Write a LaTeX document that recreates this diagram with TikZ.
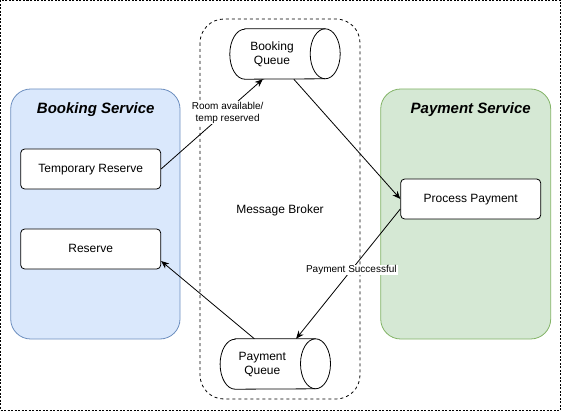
\documentclass[tikz,border=0pt]{standalone}
\usepackage{fontspec}
\setmainfont{Liberation Sans}
\usetikzlibrary{arrows.meta,calc}
\definecolor{bsfill}{HTML}{DAE8FC}
\definecolor{bsdraw}{HTML}{6C8EBF}
\definecolor{psfill}{HTML}{D5E8D4}
\definecolor{psdraw}{HTML}{82B366}
\begin{document}
\begin{tikzpicture}[x=1pt,y=-1pt,
  capc/.style={text height=0.716em, text depth=0pt},
  svc/.style={rounded corners=20pt, line width=0.8pt},
  box/.style={draw, rounded corners=4pt, fill=white, line width=0.8pt, minimum width=140pt, minimum height=40pt, font=\fontsize{12}{14}\selectfont, inner sep=0pt, capc},
  title/.style={font=\fontsize{15}{17}\selectfont\bfseries\itshape, capc},
  qbox/.style={minimum width=110pt, minimum height=50pt, inner sep=0pt},
  qtxt/.style={align=center, font=\fontsize{12}{14}\selectfont},
  conn/.style={draw, line width=0.8pt, -{Stealth[length=8pt,width=6.5pt,inset=2.5pt]}},
  elabel/.style={fill=white, inner sep=1pt, align=center, font=\fontsize{10}{12}\selectfont},
]
\useasboundingbox (0,0) rectangle (561,411);
% outer frame
\draw[line width=0.8pt, dash pattern=on 2pt off 1.5pt] (0.5,0.5) rectangle (560.5,410);
% services
\draw[svc, fill=bsfill, draw=bsdraw] (10.7,89) rectangle (180,339);
\draw[svc, fill=psfill, draw=psdraw] (380.7,89) rectangle (550.7,339);
\node[title] (bst) at (95.7,110) {Booking Service};
\node[title] (pst) at (470.7,110) {Payment Service};
% broker
\draw[line width=0.8pt, dash pattern=on 3pt off 3pt, rounded corners=24pt] (200,19) rectangle (360,399);
\node[font=\fontsize{12}{14}\selectfont, capc] (mb) at (280,210) {Message Broker};
% boxes
\node[box] (tr) at (90.7,169) {Temporary Reserve};
\node[box] (rs) at (90.7,249) {Reserve};
\node[box] (pp) at (470.7,199) {Process Payment};
% queues
\node[qbox] (bq) at (285,54) {};
\node[qbox] (pq) at (275.3,364) {};
\foreach \q in {bq,pq}{
  \draw[line width=0.8pt, fill=white]
    ($(\q.north west)+(15,0)$) -- ($(\q.north east)+(-15,0)$)
    arc[start angle=90, end angle=-90, x radius=15pt, y radius=25pt]
    -- ($(\q.south west)+(15,0)$)
    arc[start angle=-90, end angle=-270, x radius=15pt, y radius=25pt] -- cycle;
  \draw[line width=0.8pt] ($(\q.north east)+(-15,0)$)
    arc[start angle=90, end angle=270, x radius=15pt, y radius=25pt];
}
\node[qtxt] (bqt) at ($(bq.center)+(-13,0.5)$) {Booking\\Queue};
\node[qtxt] (pqt) at ($(pq.center)+(-13,0.5)$) {Payment\\Queue};
% connectors
\draw[conn] (tr.east) -- ($(bq.south west)+(33,0)$)
  node[elabel, pos=0.63, xshift=2.5pt] (l1) {Room available/\\temp reserved};
\draw[conn] ($(bq.south west)+(64,0)$) -- (pp.west);
\draw[conn] ($(pp.west)+(0,10)$) -- ($(pq.north west)+(76,0)$)
  node[elabel, pos=0.47, text height=0.716em, text depth=0.12em] (l2) {Payment Successful};
\draw[conn] ($(pq.north west)+(34.3,0)$) -- ($(rs.east)+(0,12)$);
\end{tikzpicture}
\end{document}
